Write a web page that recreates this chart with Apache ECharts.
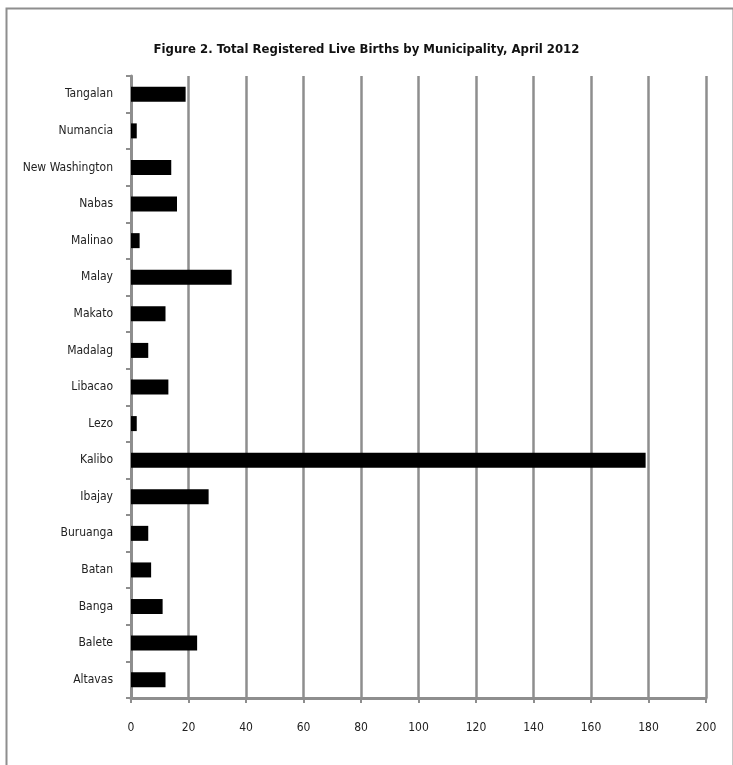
<!DOCTYPE html>
<html>
<head>
<meta charset="utf-8">
<script src="https://cdn.jsdelivr.net/npm/echarts@6/dist/echarts.min.js"></script>
<style>html,body{margin:0;padding:0;background:#fff;}#c{width:733px;height:765px;}</style>
</head>
<body>
<div id="c"></div>
<script>
const categories = ["Altavas","Balete","Banga","Batan","Buruanga","Ibajay","Kalibo","Lezo","Libacao","Madalag","Makato","Malay","Malinao","Nabas","New Washington","Numancia","Tangalan"];
const births = [12, 23, 11, 7, 6, 27, 179, 2, 13, 6, 12, 35, 3, 16, 14, 2, 19];
const xTicks = [0, 20, 40, 60, 80, 100, 120, 140, 160, 180, 200];
const titleText = "Figure 2. Total Registered Live Births by Municipality, April 2012";

const FONT = "'Liberation Sans Narrow', 'DejaVu Sans Condensed', 'Arial Narrow', sans-serif";
const GRAY = '#8e8e8e';
const chart = echarts.init(document.getElementById('c'), null, {renderer: 'canvas'});
chart.setOption({
  animation: false,
  backgroundColor: '#fff',
  graphic: [{
    type: 'rect', left: 4, top: 6, silent: true,
    shape: {width: 727, height: 800},
    style: {fill: 'none', stroke: GRAY, lineWidth: 2}
  }],
  title: {
    text: titleText, left: 'center', top: 38,
    textStyle: {fontFamily: FONT, fontWeight: 'bold', fontSize: 13, color: '#111'}
  },
  grid: {left: 131, right: 27, top: 76, bottom: 67, containLabel: false},
  xAxis: {
    type: 'value', min: xTicks[0], max: xTicks[xTicks.length - 1], interval: 20,
    axisLine: {show: true, lineStyle: {color: GRAY, width: 3}},
    axisTick: {show: true, length: 5, lineStyle: {color: GRAY, width: 2}},
    splitLine: {show: true, lineStyle: {color: GRAY, width: 2.5}},
    axisLabel: {fontFamily: FONT, fontSize: 12, color: '#222', margin: 24}
  },
  yAxis: {
    type: 'category', data: categories,
    axisLine: {show: true, lineStyle: {color: GRAY, width: 3}},
    axisTick: {show: true, length: 5, lineStyle: {color: GRAY, width: 2}},
    axisLabel: {fontFamily: FONT, fontSize: 12, color: '#222', margin: 18}
  },
  series: [{
    type: 'bar', data: births, barWidth: 15,
    itemStyle: {color: '#000'}
  }]
});
</script>
</body>
</html>
